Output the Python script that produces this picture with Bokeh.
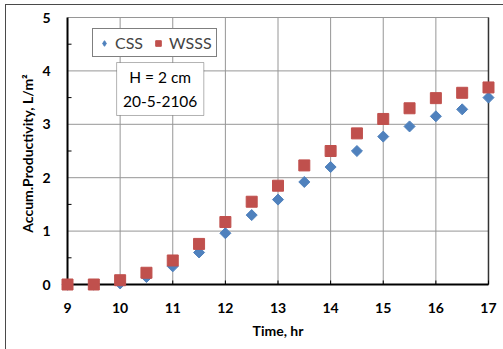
import math
from bokeh.plotting import figure
from bokeh.models import Range1d, Legend, LegendItem, BoxAnnotation, Label, FixedTicker
from bokeh.embed import file_html
from bokeh.resources import INLINE

time_hr = [9, 9.5, 10, 10.5, 11, 11.5, 12, 12.5, 13, 13.5, 14, 14.5, 15, 15.5, 16, 16.5, 17]
css = [0, 0, 0.02, 0.14, 0.34, 0.6, 0.96, 1.3, 1.59, 1.92, 2.2, 2.5, 2.77, 2.96, 3.15, 3.28, 3.5]
wsss = [0, 0, 0.08, 0.22, 0.45, 0.76, 1.17, 1.55, 1.85, 2.23, 2.5, 2.83, 3.1, 3.3, 3.49, 3.59, 3.69]
x_ticks = [9, 10, 11, 12, 13, 14, 15, 16, 17]
y_ticks = [0, 1, 2, 3, 4, 5]
y_minor = [0.5, 1.5, 2.5, 3.5, 4.5]
series_names = ["CSS", "WSSS"]
note_lines = ["H = 2 cm", "20-5-2106"]

FONT = "Lato"
x0, x1 = x_ticks[0], x_ticks[-1]
y0, y1 = y_ticks[0], y_ticks[-1]
PX_X = 52.5   # pixels per hour
PX_Y = 53.4   # pixels per unit
PAD_X = 6 / PX_X
PAD_Y = 6 / PX_Y
TOP_PAD = 1 / PX_Y
TICK_X = 4 / PX_X
TICK_Y = 4 / PX_Y

p = figure(frame_width=433, frame_height=274, output_backend="svg", toolbar_location=None,
           x_range=Range1d(x0 - PAD_X, x1 + PAD_X), y_range=Range1d(y0 - PAD_Y, y1 + TOP_PAD),
           min_border_left=61, min_border_right=9, min_border_top=16, min_border_bottom=59)
p.background_fill_color = "white"
p.border_fill_alpha = 0
p.outline_line_color = None
p.styles = {
    "background-color": "white",
    "background-image": "linear-gradient(#4a4a4a,#4a4a4a), linear-gradient(#4a4a4a,#4a4a4a)",
    "background-size": "1px 100%, 100% 1px",
    "background-position": "5px 4px, 5px 4px",
    "background-repeat": "no-repeat",
}

# grid lines drawn from tick arrays, spanning only the axes extent
p.segment(x0=x_ticks[1:], y0=[y0] * (len(x_ticks) - 1), x1=x_ticks[1:], y1=[y1] * (len(x_ticks) - 1),
          line_color="#969696", line_width=1)
p.segment(x0=[x0] * (len(y_ticks) - 1), y0=y_ticks[1:], x1=[x1] * (len(y_ticks) - 1), y1=y_ticks[1:],
          line_color="#969696", line_width=1)
# right plot-area border
p.segment(x0=[x1], y0=[y0], x1=[x1], y1=[y1], line_color="#333333", line_width=1.5)
# axis lines
p.segment(x0=[x0, x0], y0=[y0, y0], x1=[x0, x1], y1=[y1, y0], line_color="black", line_width=2)
# y minor ticks (inside) and x major ticks (inside)
p.segment(x0=[x0] * len(y_minor), y0=y_minor, x1=[x0 + TICK_X] * len(y_minor), y1=y_minor,
          line_color="black", line_width=1)
p.segment(x0=x_ticks, y0=[y0] * len(x_ticks), x1=x_ticks, y1=[y0 + TICK_Y] * len(x_ticks),
          line_color="black", line_width=1)

r1 = p.scatter(time_hr, css, marker="square", angle=math.pi / 4, size=7.8,
               fill_color="#4F81BD", line_color="#4F81BD", level="overlay")
r2 = p.scatter(time_hr, wsss, marker="square", size=11, fill_color="#C0504D", line_color="#C0504D",
               level="overlay")
# legend-only glyph for the diamond symbol (a single non-drawn NaN point)
r1_leg = p.scatter([float("nan")], [float("nan")], marker="diamond", size=14,
                   fill_color="#4F81BD", line_color="#4F81BD")

for ax in (p.xaxis[0], p.yaxis[0]):
    ax.axis_line_color = None
    ax.major_tick_line_color = None
    ax.minor_tick_line_color = None
    ax.major_tick_in = 0
    ax.major_tick_out = 0
    ax.minor_tick_in = 0
    ax.minor_tick_out = 0
    ax.major_label_text_font = FONT
    ax.major_label_text_font_style = "bold"
    ax.major_label_text_font_size = "14px"
    ax.major_label_text_color = "black"
    ax.axis_label_text_font = FONT
    ax.axis_label_text_font_style = "bold"
    ax.axis_label_text_font_size = "14px"
    ax.axis_label_text_color = "black"

p.xaxis.ticker = FixedTicker(ticks=x_ticks)
p.yaxis.ticker = FixedTicker(ticks=y_ticks)
p.xaxis.major_label_standoff = 12
p.yaxis.major_label_standoff = 11
p.xaxis.axis_label = "Time, hr"
p.yaxis.axis_label = "Accum.Productivity, L/m²"
p.xaxis.axis_label_standoff = 6
p.yaxis.axis_label_standoff = 3
p.xgrid.visible = False
p.ygrid.visible = False

legend = Legend(items=[LegendItem(label=series_names[0], renderers=[r1_leg]),
                       LegendItem(label=series_names[1], renderers=[r2])],
                orientation="horizontal", location=(31, 233),
                border_line_color="black", border_line_width=1,
                background_fill_color="white", background_fill_alpha=1,
                label_text_font=FONT, label_text_font_size="16px",
                glyph_width=14, glyph_height=14, padding=4, spacing=8,
                label_standoff=4, margin=0)
p.add_layout(legend, "center")

box = BoxAnnotation(left=9.933, right=11.59, top=4.157, bottom=3.165,
                    fill_color="white", fill_alpha=1, line_color="black", line_width=1, level="overlay")
p.add_layout(box)
for txt, yy in zip(note_lines, [3.895, 3.427]):
    p.add_layout(Label(x=10.76, y=yy, text=txt, text_align="center", text_baseline="middle",
                       text_font=FONT, text_font_size="15.5px", text_color="black", level="overlay"))

open("out.html", "w").write(file_html(p, INLINE))
